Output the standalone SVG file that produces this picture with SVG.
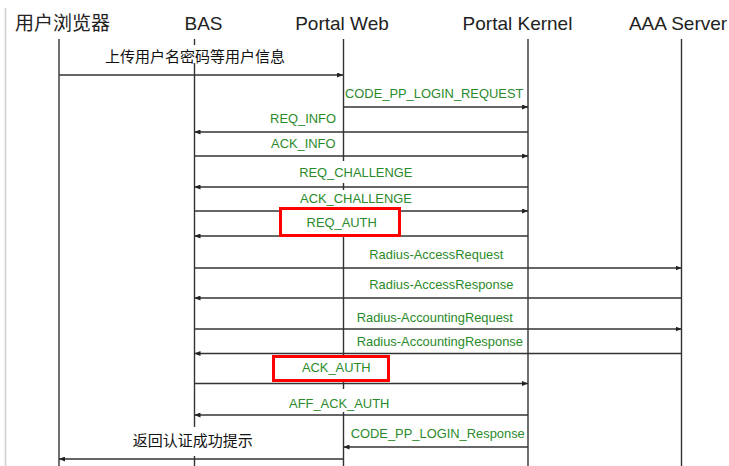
<svg xmlns="http://www.w3.org/2000/svg" width="729" height="466" viewBox="0 0 729 466">
<style>
.hdr{font-family:"Liberation Sans","Noto Sans CJK SC",Arial,sans-serif;font-size:19px;fill:#222}
.life{stroke:#333;stroke-width:1.4}
.msg{stroke:#333;stroke-width:1.3;fill:none}
.lbl{font-family:"Liberation Sans",Arial,sans-serif;font-size:12.9px;fill:#2a8a2a}
.cn{font-family:"Liberation Sans","Noto Sans CJK SC",sans-serif;font-size:15px;fill:#111}
.bg{fill:#fff}
.hl{fill:#fff;stroke:#f00;stroke-width:3}
</style>
<defs>
<marker id="ah" viewBox="0 0 6 5" refX="6" refY="2.5" markerWidth="6" markerHeight="5" markerUnits="userSpaceOnUse" orient="auto">
<path d="M0,0 L6,2.5 L0,5 z" fill="#222"/>
</marker>
</defs>
<rect x="0" y="0" width="729" height="466" fill="#fff"/>
<line x1="5.5" y1="8" x2="5.5" y2="466" stroke="#cfcfcf" stroke-width="1.5"/>

<g id="browser">
<text class="hdr" x="62.5" y="30" text-anchor="middle">用户浏览器</text>
<line class="life" x1="59" y1="39" x2="59" y2="466"/>
</g>
<g id="bas">
<text class="hdr" x="203.5" y="29.5" text-anchor="middle">BAS</text>
<line class="life" x1="194.5" y1="39" x2="194.5" y2="466"/>
</g>
<g id="portal-web">
<text class="hdr" x="342" y="29.5" text-anchor="middle">Portal Web</text>
<line class="life" x1="343.5" y1="39" x2="343.5" y2="466"/>
</g>
<g id="portal-kernel">
<text class="hdr" x="517.5" y="29.5" text-anchor="middle">Portal Kernel</text>
<line class="life" x1="528" y1="39" x2="528" y2="466"/>
</g>
<g id="aaa-server">
<text class="hdr" x="678" y="29.5" text-anchor="middle">AAA Server</text>
<line class="life" x1="681.5" y1="39" x2="681.5" y2="466"/>
</g>

<g id="label-backgrounds">
<rect class="bg" x="101" y="45" width="188" height="18"/>
<rect class="bg" x="297" y="161" width="118" height="22"/>
<rect class="bg" x="297" y="190" width="118" height="17"/>
<rect class="bg" x="286" y="389" width="106" height="23"/>
<rect class="bg" x="130" y="427" width="126" height="29"/>
</g>

<g id="connectors">
<line class="msg" x1="59" y1="75" x2="343" y2="75" marker-end="url(#ah)"/>
<line class="msg" x1="343.5" y1="107" x2="528" y2="107" marker-end="url(#ah)"/>
<line class="msg" x1="528" y1="132" x2="194.5" y2="132" marker-end="url(#ah)"/>
<line class="msg" x1="194.5" y1="156" x2="528" y2="156" marker-end="url(#ah)"/>
<line class="msg" x1="528" y1="187" x2="194.5" y2="187" marker-end="url(#ah)"/>
<line class="msg" x1="194.5" y1="211" x2="528" y2="211" marker-end="url(#ah)"/>
<line class="msg" x1="528" y1="236" x2="194.5" y2="236" marker-end="url(#ah)"/>
<line class="msg" x1="194.5" y1="268" x2="681.5" y2="268" marker-end="url(#ah)"/>
<line class="msg" x1="681.5" y1="298" x2="194.5" y2="298" marker-end="url(#ah)"/>
<line class="msg" x1="194.5" y1="329" x2="681.5" y2="329" marker-end="url(#ah)"/>
<line class="msg" x1="681.5" y1="353.5" x2="194.5" y2="353.5" marker-end="url(#ah)"/>
<line class="msg" x1="194.5" y1="383.5" x2="528" y2="383.5" marker-end="url(#ah)"/>
<line class="msg" x1="528" y1="415" x2="194.5" y2="415" marker-end="url(#ah)"/>
<line class="msg" x1="528" y1="447" x2="343.5" y2="447" marker-end="url(#ah)"/>
<line class="msg" x1="343.5" y1="459" x2="59" y2="459" marker-end="url(#ah)"/>
</g>

<g id="highlights">
<rect class="hl" x="280.5" y="208.5" width="119" height="27"/>
<rect class="hl" x="273.5" y="356.5" width="115" height="24"/>
</g>

<g id="labels">
<text class="cn" x="195" y="62" text-anchor="middle">上传用户名密码等用户信息</text>
<text class="lbl" x="345" y="98.3">CODE_PP_LOGIN_REQUEST</text>
<text class="lbl" x="336" y="122.7" text-anchor="end">REQ_INFO</text>
<text class="lbl" x="335.5" y="147.7" text-anchor="end">ACK_INFO</text>
<text class="lbl" x="355.8" y="177.3" text-anchor="middle">REQ_CHALLENGE</text>
<text class="lbl" x="356" y="202.7" text-anchor="middle">ACK_CHALLENGE</text>
<text class="lbl" x="341.7" y="227.3" text-anchor="middle">REQ_AUTH</text>
<text class="lbl" x="369.3" y="259">Radius-AccessRequest</text>
<text class="lbl" x="369.3" y="289">Radius-AccessResponse</text>
<text class="lbl" x="356.7" y="321.7">Radius-AccountingRequest</text>
<text class="lbl" x="356.7" y="346">Radius-AccountingResponse</text>
<text class="lbl" x="336.3" y="371.7" text-anchor="middle">ACK_AUTH</text>
<text class="lbl" x="339.2" y="407.7" text-anchor="middle">AFF_ACK_AUTH</text>
<text class="lbl" x="350.7" y="437.7">CODE_PP_LOGIN_Response</text>
<text class="cn" x="192.8" y="446" text-anchor="middle">返回认证成功提示</text>
</g>
</svg>
